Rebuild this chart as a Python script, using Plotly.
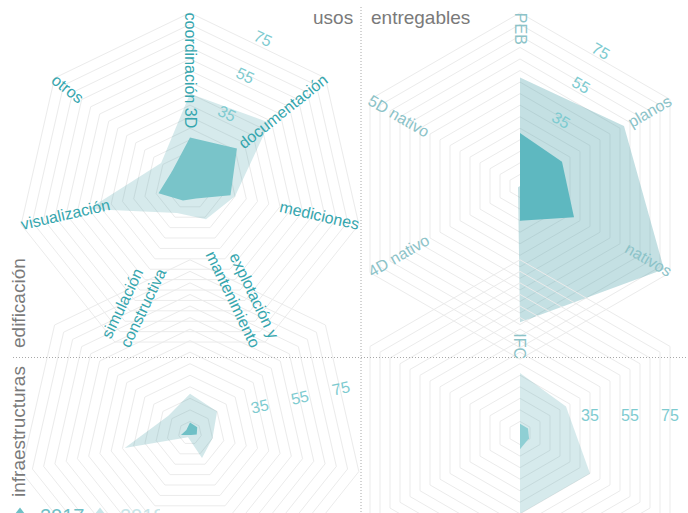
import math
import plotly.graph_objects as go

# ---------------- data ----------------
USOS = ["coordinación 3D", "documentación", "mediciones", "explotación y<br>mantenimiento",
        "simulación<br>constructiva", "visualización", "otros"]
ENTREGABLES = ["PEB", "planos", "nativos", "IFC", "4D nativo", "5D nativo"]
YEARS = ["2017", "2018"]

EDIF_USOS_2017 = [21, 26, 18, 6, 7, 14, 10]
EDIF_USOS_2018 = [40, 44, 20, 16, 13, 45, 16]
EDIF_ENTREG_2017 = [23, 21, 27, 15, 0, 0]
EDIF_ENTREG_2018 = [47, 52, 72, 59, 1, 0]
INFRA_USOS_2017 = [4.5, 4, 3, 1, 1, 4, 2]
INFRA_USOS_2018 = [17, 15, 10, 12, 2, 29, 12]
INFRA_ENTREG_2017 = [4, 4, 4.5, 7, 0, 0]
INFRA_ENTREG_2018 = [26, 23, 35, 35, 0, 0]

RADIAL_TICKS = [35, 55, 75]
GRID_STEP = 5
R_MAX = 75
COL_TITLES = ["usos", "entregables"]
ROW_TITLES = ["edificación", "infraestructuras"]

# ---------------- layout geometry ----------------
W, H = 700, 620
R = 173.2
FONT = "Liberation Sans, Arial, Helvetica, sans-serif"
GRID = "#ebebeb"
CENTERS = {"polar": (190, 186), "polar2": (520, 186), "polar3": (190, 433), "polar4": (520, 433)}

ARIAL = {'a': 556, 'b': 556, 'c': 500, 'd': 556, 'e': 556, 'f': 278, 'g': 556, 'h': 556, 'i': 222,
         'j': 222, 'k': 500, 'l': 222, 'm': 833, 'n': 556, 'o': 556, 'p': 556, 'q': 556, 'r': 333,
         's': 500, 't': 278, 'u': 556, 'v': 500, 'w': 722, 'x': 500, 'y': 500, 'z': 500, ' ': 278,
         'ó': 556, 'D': 722, 'P': 667, 'E': 667, 'B': 667, 'I': 278, 'F': 611, 'C': 722}


def text_width(s, size):
    return sum(ARIAL.get(ch, 556) for ch in s) / 1000.0 * size


def px2paper(px, py):
    return px / W, 1 - py / H


def domain(cx, cy):
    return dict(x=[(cx - R) / W, (cx + R) / W], y=[1 - (cy + R) / H, 1 - (cy - R) / H])


def polar_cfg(key, cats):
    cx, cy = CENTERS[key]
    return dict(
        domain=domain(cx, cy),
        bgcolor="rgba(0,0,0,0)",
        gridshape="linear",
        radialaxis=dict(range=[0, R_MAX], tickvals=list(range(GRID_STEP, R_MAX + 1, GRID_STEP)),
                        showticklabels=False, ticks="", showline=False,
                        gridcolor=GRID, gridwidth=1),
        angularaxis=dict(type="category", categoryarray=cats, rotation=90, direction="clockwise",
                         showgrid=False, showticklabels=False, ticks="", showline=True,
                         linecolor=GRID, linewidth=1),
    )


fig = go.Figure()

panels = [
    ("polar", USOS, EDIF_USOS_2017, EDIF_USOS_2018, "#79c4c9", "rgba(70,160,168,0.225)"),
    ("polar2", ENTREGABLES, EDIF_ENTREG_2017, EDIF_ENTREG_2018, "#5eb8c0", "rgba(70,160,168,0.32)"),
    ("polar3", USOS, INFRA_USOS_2017, INFRA_USOS_2018, "#6fc0c6", "rgba(70,160,168,0.24)"),
    ("polar4", ENTREGABLES, INFRA_ENTREG_2017, INFRA_ENTREG_2018, "#8fcfd4", "rgba(70,160,168,0.225)"),
]

for key, cats, v17, v18, c17, c18 in panels:
    fig.add_trace(go.Scatterpolar(r=v18, theta=cats, fill="toself", fillcolor=c18, mode="lines",
                                  line=dict(width=0, color=c18), subplot=key, showlegend=False,
                                  hoverinfo="skip"))
    fig.add_trace(go.Scatterpolar(r=v17, theta=cats, fill="toself", fillcolor=c17, mode="lines",
                                  line=dict(width=0, color=c17), subplot=key, showlegend=False,
                                  hoverinfo="skip"))

# legend entries (a single empty point so the trace stays visible in the legend)
LEG_COLORS = ["#6fc0c6", "#c8e5e8"]
for year, col in zip(YEARS, LEG_COLORS):
    fig.add_trace(go.Scatterpolar(r=[None], theta=[None], mode="markers", subplot="polar",
                                  marker=dict(symbol="triangle-up", size=16, color=col),
                                  hoverinfo="skip",
                                  name='<span style="color:%s">%s</span>' % (col, year)))

annotations = []

# category labels
LABEL_COLORS = {"polar": "#35a6ae", "polar2": "#8cc3c8"}
for key, cats in [("polar", USOS), ("polar2", ENTREGABLES)]:
    cx, cy = CENTERS[key]
    n = len(cats)
    for i, cat in enumerate(cats):
        th = 90 - 360.0 * i / n
        t = math.radians(th)
        ux, uy = math.cos(t), -math.sin(t)
        L = max(text_width(s, 16) for s in cat.split("<br>"))
        d = R - L / 2
        x, y = px2paper(cx + d * ux, cy + d * uy)
        right = math.cos(t) > 1e-6 or abs(th + 90) < 1e-6
        ang = -th if right else 180 - th
        while ang > 180:
            ang -= 360
        while ang <= -180:
            ang += 360
        annotations.append(dict(text=cat, x=x, y=y, xref="paper", yref="paper", showarrow=False,
                                textangle=ang, xanchor="center", yanchor="middle",
                                align="right" if right else "left",
                                font=dict(size=16, color=LABEL_COLORS[key], family=FONT)))

# radial tick labels (placed on the polygon rings)
RAD_CFG = {
    "polar": (90 - 360 / 14, 90 - (90 - 360 / 14), 8.5, -1.5, 7),
    "polar2": (60, 30, 7.5, -3, 6),
    "polar3": (360 / 28, -360 / 28, 1, 10, 7),
    "polar4": (0, 0, 0, 18, 6),
}
for key, (phi, tang, aoff, poff, n) in RAD_CFG.items():
    cx, cy = CENTERS[key]
    p = math.radians(phi)
    dx, dy = math.cos(p), -math.sin(p)
    nx, ny = -math.sin(p), -math.cos(p)
    for v in RADIAL_TICKS:
        along = math.cos(math.pi / n) * v * R / R_MAX + aoff
        x, y = px2paper(cx + along * dx + poff * nx, cy + along * dy + poff * ny)
        annotations.append(dict(text=str(v), x=x, y=y, xref="paper", yref="paper", showarrow=False,
                                textangle=tang, xanchor="center", yanchor="middle",
                                font=dict(size=16, color="#7ecbd0", family=FONT)))

# column / row titles
TITLE_FONT = dict(size=19, color="#7a7a7a", family=FONT)
x, y = px2paper(355, 17)
annotations.append(dict(text=COL_TITLES[0], x=x, y=y, xref="paper", yref="paper", showarrow=False,
                        xanchor="right", yanchor="middle", font=TITLE_FONT))
x, y = px2paper(369, 17)
annotations.append(dict(text=COL_TITLES[1], x=x, y=y, xref="paper", yref="paper", showarrow=False,
                        xanchor="left", yanchor="middle", font=TITLE_FONT))
for title, (px, py) in zip(ROW_TITLES, [(18, 303), (18, 432)]):
    x, y = px2paper(px, py)
    annotations.append(dict(text=title, x=x, y=y, xref="paper", yref="paper", showarrow=False,
                            textangle=-90, xanchor="center", yanchor="middle", font=TITLE_FONT))

shapes = [
    dict(type="line", xref="paper", yref="paper", x0=361 / W, x1=361 / W, y0=1 - 7 / H, y1=0,
         line=dict(color="#a8a8a8", width=1, dash="1px,2px")),
    dict(type="line", xref="paper", yref="paper", x0=13 / W, x1=1, y0=1 - 357.5 / H, y1=1 - 357.5 / H,
         line=dict(color="#a8a8a8", width=1, dash="1px,2px")),
]

lx, ly = px2paper(0, 496)
fig.update_layout(
    width=W, height=H, autosize=False,
    margin=dict(l=0, r=0, t=0, b=0),
    paper_bgcolor="white", plot_bgcolor="white",
    font=dict(family=FONT),
    polar=polar_cfg("polar", USOS),
    polar2=polar_cfg("polar2", ENTREGABLES),
    polar3=polar_cfg("polar3", USOS),
    polar4=polar_cfg("polar4", ENTREGABLES),
    annotations=annotations,
    shapes=shapes,
    showlegend=True,
    legend=dict(orientation="h", x=lx, y=ly, xanchor="left", yanchor="top", valign="top",
                font=dict(size=20, family=FONT), bgcolor="rgba(0,0,0,0)",
                entrywidth=35, entrywidthmode="pixels", itemwidth=30),
)

POST = ("var gd=document.getElementById('{plot_id}');document.body.style.margin='0';"
        "document.body.style.overflow='hidden';"
        "gd.parentElement.style.cssText='width:688px;height:513px;overflow:hidden;';")
fig.write_html("out.html", config={"displayModeBar": False}, post_script=POST)
